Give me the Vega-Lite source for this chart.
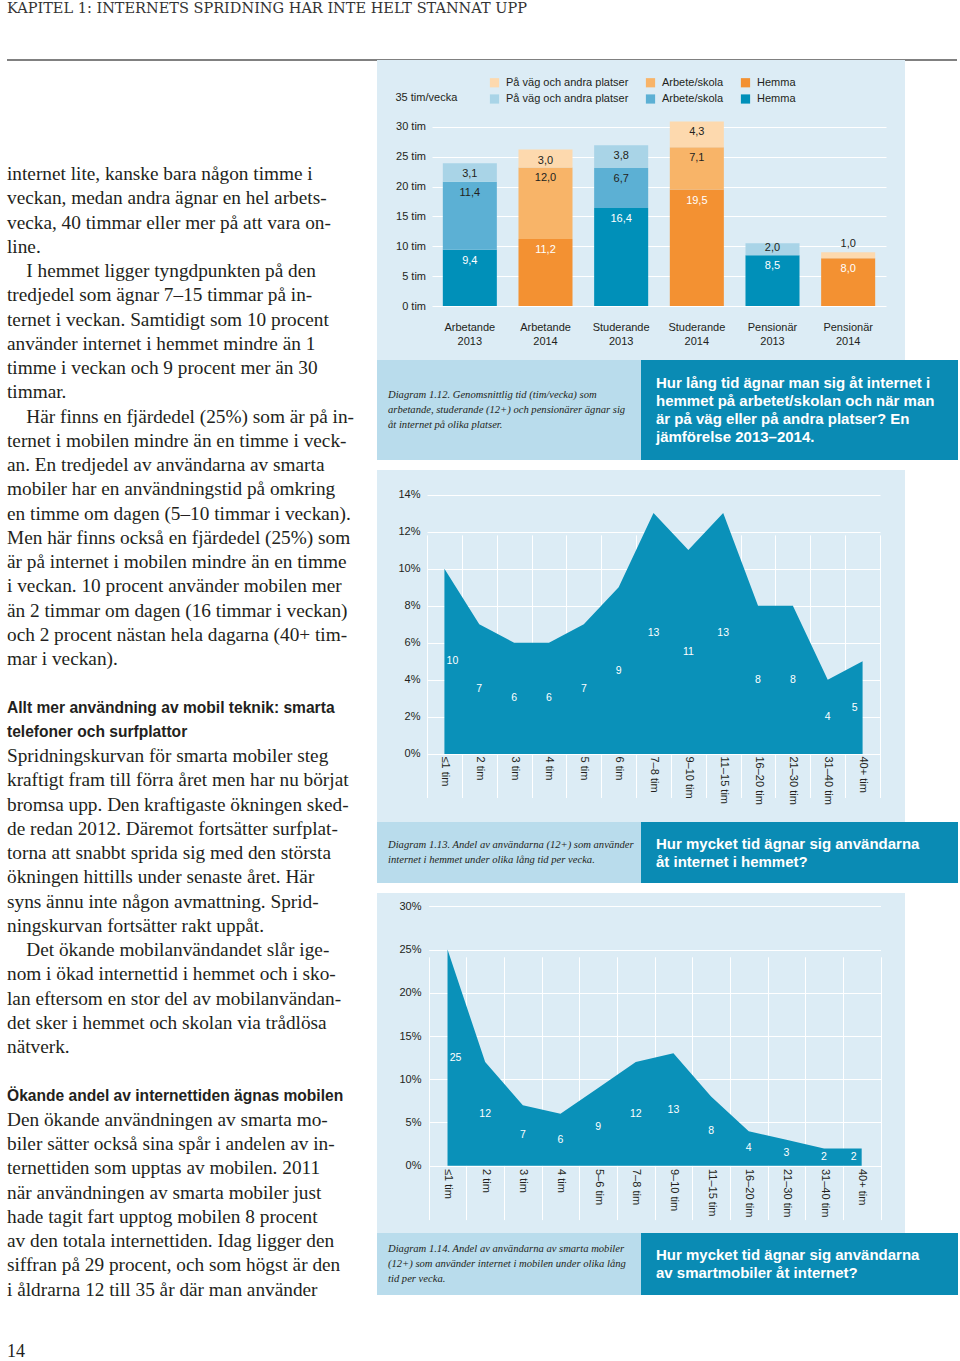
{
  "$schema": "https://vega.github.io/schema/vega-lite/v6.json",
  "padding": {"left": 6, "top": 0, "right": 0, "bottom": 0},
  "background": "white",
  "bounds": "flush",
  "spacing": 0,
  "config": {
    "view": {"stroke": null},
    "font": "Liberation Sans",
    "axis": {"grid": false, "domain": false, "ticks": false, "tickSize": 0, "labelPadding": 0, "labelFont": "Liberation Sans", "labelFontSize": 11, "labelColor": "#231f20"}
  },
  "datasets": {
    "tid": [
      {"grupp": "Arbetande 2013", "ar": 2013, "plats": "Hemma", "serie": "2013 Hemma", "tim": 9.4},
      {"grupp": "Arbetande 2013", "ar": 2013, "plats": "Arbete/skola", "serie": "2013 Arbete/skola", "tim": 11.4},
      {"grupp": "Arbetande 2013", "ar": 2013, "plats": "På väg och andra platser", "serie": "2013 På väg och andra platser", "tim": 3.1},
      {"grupp": "Arbetande 2014", "ar": 2014, "plats": "Hemma", "serie": "2014 Hemma", "tim": 11.2},
      {"grupp": "Arbetande 2014", "ar": 2014, "plats": "Arbete/skola", "serie": "2014 Arbete/skola", "tim": 12.0},
      {"grupp": "Arbetande 2014", "ar": 2014, "plats": "På väg och andra platser", "serie": "2014 På väg och andra platser", "tim": 3.0},
      {"grupp": "Studerande 2013", "ar": 2013, "plats": "Hemma", "serie": "2013 Hemma", "tim": 16.4},
      {"grupp": "Studerande 2013", "ar": 2013, "plats": "Arbete/skola", "serie": "2013 Arbete/skola", "tim": 6.7},
      {"grupp": "Studerande 2013", "ar": 2013, "plats": "På väg och andra platser", "serie": "2013 På väg och andra platser", "tim": 3.8},
      {"grupp": "Studerande 2014", "ar": 2014, "plats": "Hemma", "serie": "2014 Hemma", "tim": 19.5},
      {"grupp": "Studerande 2014", "ar": 2014, "plats": "Arbete/skola", "serie": "2014 Arbete/skola", "tim": 7.1},
      {"grupp": "Studerande 2014", "ar": 2014, "plats": "På väg och andra platser", "serie": "2014 På väg och andra platser", "tim": 4.3},
      {"grupp": "Pensionär 2013", "ar": 2013, "plats": "Hemma", "serie": "2013 Hemma", "tim": 8.5},
      {"grupp": "Pensionär 2013", "ar": 2013, "plats": "På väg och andra platser", "serie": "2013 På väg och andra platser", "tim": 2.0},
      {"grupp": "Pensionär 2014", "ar": 2014, "plats": "Hemma", "serie": "2014 Hemma", "tim": 8.0},
      {"grupp": "Pensionär 2014", "ar": 2014, "plats": "På väg och andra platser", "serie": "2014 På väg och andra platser", "tim": 1.0}
    ],
    "hemma": [
      {"tid": "≤1 tim", "andel": 10},
      {"tid": "2 tim", "andel": 7},
      {"tid": "3 tim", "andel": 6},
      {"tid": "4 tim", "andel": 6},
      {"tid": "5 tim", "andel": 7},
      {"tid": "6 tim", "andel": 9},
      {"tid": "7–8 tim", "andel": 13},
      {"tid": "9–10 tim", "andel": 11},
      {"tid": "11–15 tim", "andel": 13},
      {"tid": "16–20 tim", "andel": 8},
      {"tid": "21–30 tim", "andel": 8},
      {"tid": "31–40 tim", "andel": 4},
      {"tid": "40+ tim", "andel": 5}
    ],
    "mobil": [
      {"tid": "≤1 tim", "andel": 25},
      {"tid": "2 tim", "andel": 12},
      {"tid": "3 tim", "andel": 7},
      {"tid": "4 tim", "andel": 6},
      {"tid": "5–6 tim", "andel": 9},
      {"tid": "7–8 tim", "andel": 12},
      {"tid": "9–10 tim", "andel": 13},
      {"tid": "11–15 tim", "andel": 8},
      {"tid": "16–20 tim", "andel": 4},
      {"tid": "21–30 tim", "andel": 3},
      {"tid": "31–40 tim", "andel": 2},
      {"tid": "40+ tim", "andel": 2}
    ],
    "brodtext": [
      {"rad": 0, "typ": "brod", "text": "internet lite, kanske bara någon timme i"},
      {"rad": 1, "typ": "brod", "text": "veckan, medan andra ägnar en hel arbets-"},
      {"rad": 2, "typ": "brod", "text": "vecka, 40 timmar eller mer på att vara on-"},
      {"rad": 3, "typ": "brod", "text": "line."},
      {"rad": 4, "typ": "brod", "text": "\u200b\u2003I hemmet ligger tyngdpunkten på den"},
      {"rad": 5, "typ": "brod", "text": "tredjedel som ägnar 7–15 timmar på in-"},
      {"rad": 6, "typ": "brod", "text": "ternet i veckan. Samtidigt som 10 procent"},
      {"rad": 7, "typ": "brod", "text": "använder internet i hemmet mindre än 1"},
      {"rad": 8, "typ": "brod", "text": "timme i veckan och 9 procent mer än 30"},
      {"rad": 9, "typ": "brod", "text": "timmar."},
      {"rad": 10, "typ": "brod", "text": "\u200b\u2003Här finns en fjärdedel (25%) som är på in-"},
      {"rad": 11, "typ": "brod", "text": "ternet i mobilen mindre än en timme i veck-"},
      {"rad": 12, "typ": "brod", "text": "an. En tredjedel av användarna av smarta"},
      {"rad": 13, "typ": "brod", "text": "mobiler har en användningstid på omkring"},
      {"rad": 14, "typ": "brod", "text": "en timme om dagen (5–10 timmar i veckan)."},
      {"rad": 15, "typ": "brod", "text": "Men här finns också en fjärdedel (25%) som"},
      {"rad": 16, "typ": "brod", "text": "är på internet i mobilen mindre än en timme"},
      {"rad": 17, "typ": "brod", "text": "i veckan. 10 procent använder mobilen mer"},
      {"rad": 18, "typ": "brod", "text": "än 2 timmar om dagen (16 timmar i veckan)"},
      {"rad": 19, "typ": "brod", "text": "och 2 procent nästan hela dagarna (40+ tim-"},
      {"rad": 20, "typ": "brod", "text": "mar i veckan)."},
      {"rad": 22, "typ": "rubrik", "text": "Allt mer användning av mobil teknik: smarta"},
      {"rad": 23, "typ": "rubrik", "text": "telefoner och surfplattor"},
      {"rad": 24, "typ": "brod", "text": "Spridningskurvan för smarta mobiler steg"},
      {"rad": 25, "typ": "brod", "text": "kraftigt fram till förra året men har nu börjat"},
      {"rad": 26, "typ": "brod", "text": "bromsa upp. Den kraftigaste ökningen sked-"},
      {"rad": 27, "typ": "brod", "text": "de redan 2012. Däremot fortsätter surfplat-"},
      {"rad": 28, "typ": "brod", "text": "torna att snabbt sprida sig med den största"},
      {"rad": 29, "typ": "brod", "text": "ökningen hittills under senaste året. Här"},
      {"rad": 30, "typ": "brod", "text": "syns ännu inte någon avmattning. Sprid-"},
      {"rad": 31, "typ": "brod", "text": "ningskurvan fortsätter rakt uppåt."},
      {"rad": 32, "typ": "brod", "text": "\u200b\u2003Det ökande mobilanvändandet slår ige-"},
      {"rad": 33, "typ": "brod", "text": "nom i ökad internettid i hemmet och i sko-"},
      {"rad": 34, "typ": "brod", "text": "lan eftersom en stor del av mobilanvändan-"},
      {"rad": 35, "typ": "brod", "text": "det sker i hemmet och skolan via trådlösa"},
      {"rad": 36, "typ": "brod", "text": "nätverk."},
      {"rad": 38, "typ": "rubrik", "text": "Ökande andel av internettiden ägnas mobilen"},
      {"rad": 39, "typ": "brod", "text": "Den ökande användningen av smarta mo-"},
      {"rad": 40, "typ": "brod", "text": "biler sätter också sina spår i andelen av in-"},
      {"rad": 41, "typ": "brod", "text": "ternettiden som upptas av mobilen. 2011"},
      {"rad": 42, "typ": "brod", "text": "när användningen av smarta mobiler just"},
      {"rad": 43, "typ": "brod", "text": "hade tagit fart upptog mobilen 8 procent"},
      {"rad": 44, "typ": "brod", "text": "av den totala internettiden. Idag ligger den"},
      {"rad": 45, "typ": "brod", "text": "siffran på 29 procent, och som högst är den"},
      {"rad": 46, "typ": "brod", "text": "i åldrarna 12 till 35 år där man använder"},
      {"rad": 48, "typ": "sida", "text": "14"}
    ]
  },
  "vconcat": [
    {
      "width": 950,
      "height": 60,
      "data": {"values": [{"rubrik": "KAPITEL 1: INTERNETS SPRIDNING HAR INTE HELT STANNAT UPP"}]},
      "layer": [
        {
          "mark": {"type": "text", "align": "left", "baseline": "top", "dy": 2, "font": "DejaVu Serif", "fontSize": 14.5, "color": "#333333"},
          "encoding": {
            "x": {"datum": 0, "type": "quantitative", "scale": {"domain": [0, 1]}, "axis": null},
            "y": {"datum": 1, "type": "quantitative", "scale": {"domain": [0, 1]}, "axis": null},
            "text": {"field": "rubrik"}
          }
        },
        {
          "mark": {"type": "rule", "color": "#808080", "strokeWidth": 2},
          "encoding": {
            "x": {"datum": 0, "type": "quantitative", "axis": null},
            "x2": {"datum": 1},
            "y": {"datum": 0, "type": "quantitative", "axis": null}
          }
        }
      ]
    },
    {
      "hconcat": [
        {
          "width": 350,
          "height": 1301,
          "data": {"name": "brodtext"},
          "encoding": {
            "x": {"datum": 0, "type": "quantitative", "scale": {"domain": [0, 1]}, "axis": null},
            "y": {"field": "rad", "type": "quantitative", "scale": {"domain": [-4.701, 48.948], "reverse": true, "nice": false, "zero": false}, "axis": null},
            "text": {"field": "text"}
          },
          "layer": [
            {"transform": [{"filter": "datum.typ == 'brod'"}], "mark": {"type": "text", "align": "left", "baseline": "middle", "font": "Liberation Serif", "fontSize": 19.3, "color": "#231f20"}},
            {"transform": [{"filter": "datum.typ == 'rubrik'"}], "mark": {"type": "text", "align": "left", "baseline": "middle", "font": "Liberation Sans", "fontWeight": "bold", "fontSize": 15.6, "color": "#231f20"}},
            {"transform": [{"filter": "datum.typ == 'sida'"}], "mark": {"type": "text", "align": "left", "baseline": "middle", "font": "Liberation Serif", "fontSize": 18, "dy": 14, "color": "#231f20"}}
          ]
        },
        {
          "vconcat": [
            {
              "vconcat": [
                {
                  "width": 528,
                  "height": 300,
                  "view": {"fill": "#dcecf5"},
                  "data": {"name": "tid"},
                  "transform": [
                    {"calculate": "indexof(['Hemma', 'Arbete/skola', 'På väg och andra platser'], datum.plats)", "as": "niva"},
                    {"calculate": "replace(format(datum.tim, '.1f'), '.', ',')", "as": "etikett"}
                  ],
                  "layer": [
                    {
                      "mark": {"type": "bar", "opacity": 1},
                      "encoding": {
                        "x": {
                          "field": "grupp", "type": "nominal", "title": null,
                          "scale": {"type": "band", "domain": ["Arbetande 2013", "Arbetande 2014", "Studerande 2013", "Studerande 2014", "Pensionär 2013", "Pensionär 2014"], "range": [55, 509], "paddingInner": 0.286, "paddingOuter": 0.143},
                          "axis": {"orient": "bottom", "offset": -39, "labelAngle": 0, "labelExpr": "split(datum.label, ' ')", "labelLineHeight": 14, "labelBaseline": "top", "labelAlign": "center", "labelPadding": 0, "ticks": false, "domain": false, "title": null}
                        },
                        "y": {
                          "field": "tim", "type": "quantitative", "stack": "zero", "title": null,
                          "scale": {"domain": [0, 35], "range": [246, 37], "nice": false},
                          "axis": {
                            "orient": "left", "offset": -48.5, "values": [0, 5, 10, 15, 20, 25, 30],
                            "labelExpr": "datum.value + ' tim'",
                            "labelAlign": "right",
                            "labelBaseline": "middle", "labelPadding": 0, "ticks": false, "domain": false,
                            "grid": true, "gridColor": "white", "gridWidth": 1, "gridOpacity": 1,
                            "title": "35 tim/vecka", "titleAngle": 0, "titleAlign": "left", "titleBaseline": "middle", "titleX": -30.5, "titleY": 37,
                            "titleFont": "Liberation Sans", "titleFontSize": 11, "titleFontWeight": "normal", "titleColor": "#231f20"
                          }
                        },
                        "color": {
                          "field": "serie", "type": "nominal",
                          "scale": {
                            "domain": ["2014 På väg och andra platser", "2014 Arbete/skola", "2014 Hemma", "2013 På väg och andra platser", "2013 Arbete/skola", "2013 Hemma"],
                            "range": ["#fdd9ae", "#f8b468", "#f39132", "#a9d4e7", "#5cb0d4", "#0090b9"]
                          },
                          "legend": {
                            "title": null, "orient": "none", "legendX": 482, "legendY": 77, "columns": 3, "direction": "horizontal",
                            "symbolType": "square", "symbolSize": 85, "symbolStrokeWidth": 0, "padding": 0,
                            "columnPadding": 16, "rowPadding": 4.5, "labelOffset": 6,
                            "labelFont": "Liberation Sans", "labelFontSize": 11, "labelColor": "#231f20",
                            "labelExpr": "substring(datum.label, 5)"
                          }
                        },
                        "order": {"field": "niva", "type": "quantitative"}
                      }
                    },
                    {
                      "mark": {"type": "text", "font": "Liberation Sans", "fontSize": 11, "baseline": "middle", "align": "center", "dy": 11},
                      "encoding": {
                        "x": {"field": "grupp", "type": "nominal"},
                        "y": {"field": "tim", "type": "quantitative", "stack": "zero"},
                        "detail": {"field": "serie"},
                        "order": {"field": "niva", "type": "quantitative"},
                        "text": {"condition": {"test": "datum.tim < 2.5", "value": ""}, "field": "etikett"},
                        "color": {"condition": {"test": "datum.plats == 'Hemma'", "value": "white"}, "value": "#231f20"}
                      }
                    },
                    {
                      "mark": {"type": "text", "font": "Liberation Sans", "fontSize": 11, "baseline": "middle", "align": "center", "dy": 5, "color": "#231f20"},
                      "encoding": {
                        "x": {"field": "grupp", "type": "nominal"},
                        "y": {"field": "tim", "type": "quantitative", "stack": "zero"},
                        "detail": {"field": "serie"},
                        "order": {"field": "niva", "type": "quantitative"},
                        "text": {"condition": {"test": "datum.tim >= 1.5 && datum.tim < 2.5", "field": "etikett"}, "value": ""}
                      }
                    },
                    {
                      "mark": {"type": "text", "font": "Liberation Sans", "fontSize": 11, "baseline": "middle", "align": "center", "dy": -8, "color": "#231f20"},
                      "encoding": {
                        "x": {"field": "grupp", "type": "nominal"},
                        "y": {"field": "tim", "type": "quantitative", "stack": "zero"},
                        "detail": {"field": "serie"},
                        "order": {"field": "niva", "type": "quantitative"},
                        "text": {"condition": {"test": "datum.tim < 1.5", "field": "etikett"}, "value": ""}
                      }
                    }
                  ]
                },
                {
                  "hconcat": [
                    {
                      "width": 264, "height": 100,
                      "view": {"fill": "#b9dcec"},
                      "data": {"values": [{"text": "Diagram 1.12. Genomsnittlig tid (tim/vecka) som\narbetande, studerande (12+) och pensionärer ägnar sig\nåt internet på olika platser."}]},
                      "mark": {"type": "text", "align": "left", "baseline": "middle", "dx": 11, "dy": -15, "lineBreak": "\n", "lineHeight": 15, "font": "Liberation Serif", "fontStyle": "italic", "fontSize": 10.6, "color": "#231f20"},
                      "encoding": {"x": {"datum": 0, "type": "quantitative", "scale": {"domain": [0, 1]}, "axis": null}, "text": {"field": "text"}}
                    },
                    {
                      "width": 317, "height": 100,
                      "view": {"fill": "#0a8bb4"},
                      "data": {"values": [{"text": "Hur lång tid ägnar man sig åt internet i\nhemmet på arbetet/skolan och när man\när på väg eller på andra platser? En\njämförelse 2013–2014."}]},
                      "mark": {"type": "text", "align": "left", "baseline": "middle", "dx": 15, "dy": -27.5, "lineBreak": "\n", "lineHeight": 18.3, "font": "Liberation Sans", "fontWeight": "bold", "fontSize": 15, "color": "white"},
                      "encoding": {"x": {"datum": 0, "type": "quantitative", "scale": {"domain": [0, 1]}, "axis": null}, "text": {"field": "text"}}
                    }
                  ],
                  "spacing": 0
                }
              ],
              "spacing": 0
            },
            {
              "vconcat": [
                {
                  "width": 528,
                  "height": 352,
                  "view": {"fill": "#dcecf5"},
                  "data": {"name": "hemma"},
                  "transform": [{"calculate": "datum.andel / 2", "as": "halv"}],
                  "layer": [
                    {
                      "mark": {"type": "area", "color": "#0a91b9", "opacity": 1, "interpolate": "linear"},
                      "encoding": {
                        "x": {
                          "field": "tid", "type": "nominal", "sort": null, "title": null,
                          "scale": {"type": "band", "domain": ["≤1 tim", "2 tim", "3 tim", "4 tim", "5 tim", "6 tim", "7–8 tim", "9–10 tim", "11–15 tim", "16–20 tim", "21–30 tim", "31–40 tim", "40+ tim"], "range": [50, 503], "paddingInner": 0, "paddingOuter": 0},
                          "axis": {"orient": "bottom", "offset": -66, "labelAngle": 90, "labelAlign": "left", "labelBaseline": "middle", "labelPadding": 0, "ticks": false, "domain": false, "title": null, "grid": true, "gridColor": "white", "gridOpacity": 1, "tickBand": "extent"}
                        },
                        "y": {
                          "field": "andel", "type": "quantitative", "title": null,
                          "scale": {"domain": [-0.17, 14], "range": [287.1, 24.5], "nice": false, "zero": false},
                          "axis": {"orient": "left", "offset": -43, "values": [0, 2, 4, 6, 8, 10, 12, 14], "labelExpr": "datum.value + '%'", "labelBaseline": "middle", "labelPadding": 0, "ticks": false, "domain": false, "grid": true, "gridColor": "white", "gridOpacity": 1, "title": null}
                        }
                      }
                    },
                    {
                      "transform": [{"filter": "datum.tid != '≤1 tim' && datum.tid != '40+ tim'"}],
                      "mark": {"type": "text", "color": "white", "font": "Liberation Sans", "fontSize": 10.5, "baseline": "middle", "align": "center"},
                      "encoding": {
                        "x": {"field": "tid", "type": "nominal", "sort": null},
                        "y": {"field": "halv", "type": "quantitative"},
                        "text": {"field": "andel", "type": "quantitative"}
                      }
                    },
                    {
                      "transform": [{"filter": "datum.tid == '≤1 tim'"}],
                      "mark": {"type": "text", "color": "white", "font": "Liberation Sans", "fontSize": 10.5, "baseline": "middle", "align": "center", "dx": 8},
                      "encoding": {
                        "x": {"field": "tid", "type": "nominal", "sort": null},
                        "y": {"field": "halv", "type": "quantitative"},
                        "text": {"field": "andel", "type": "quantitative"}
                      }
                    },
                    {
                      "transform": [{"filter": "datum.tid == '40+ tim'"}],
                      "mark": {"type": "text", "color": "white", "font": "Liberation Sans", "fontSize": 10.5, "baseline": "middle", "align": "center", "dx": -8},
                      "encoding": {
                        "x": {"field": "tid", "type": "nominal", "sort": null},
                        "y": {"field": "halv", "type": "quantitative"},
                        "text": {"field": "andel", "type": "quantitative"}
                      }
                    }
                  ]
                },
                {
                  "hconcat": [
                    {
                      "width": 264, "height": 61,
                      "view": {"fill": "#b9dcec"},
                      "data": {"values": [{"text": "Diagram 1.13. Andel av användarna (12+) som använder\ninternet i hemmet under olika lång tid per vecka."}]},
                      "mark": {"type": "text", "align": "left", "baseline": "middle", "dx": 11, "dy": -7.5, "lineBreak": "\n", "lineHeight": 15, "font": "Liberation Serif", "fontStyle": "italic", "fontSize": 10.6, "color": "#231f20"},
                      "encoding": {"x": {"datum": 0, "type": "quantitative", "scale": {"domain": [0, 1]}, "axis": null}, "text": {"field": "text"}}
                    },
                    {
                      "width": 317, "height": 61,
                      "view": {"fill": "#0a8bb4"},
                      "data": {"values": [{"text": "Hur mycket tid ägnar sig användarna\nåt internet i hemmet?"}]},
                      "mark": {"type": "text", "align": "left", "baseline": "middle", "dx": 15, "dy": -9, "lineBreak": "\n", "lineHeight": 18.3, "font": "Liberation Sans", "fontWeight": "bold", "fontSize": 15, "color": "white"},
                      "encoding": {"x": {"datum": 0, "type": "quantitative", "scale": {"domain": [0, 1]}, "axis": null}, "text": {"field": "text"}}
                    }
                  ],
                  "spacing": 0
                }
              ],
              "spacing": 0
            },
            {
              "vconcat": [
                {
                  "width": 528,
                  "height": 340,
                  "view": {"fill": "#dcecf5"},
                  "data": {"name": "mobil"},
                  "transform": [{"calculate": "datum.andel / 2", "as": "halv"}],
                  "layer": [
                    {
                      "mark": {"type": "area", "color": "#0a91b9", "opacity": 1, "interpolate": "linear"},
                      "encoding": {
                        "x": {
                          "field": "tid", "type": "nominal", "sort": null, "title": null,
                          "scale": {"type": "band", "domain": ["≤1 tim", "2 tim", "3 tim", "4 tim", "5–6 tim", "7–8 tim", "9–10 tim", "11–15 tim", "16–20 tim", "21–30 tim", "31–40 tim", "40+ tim"], "range": [51.7, 503.5], "paddingInner": 0, "paddingOuter": 0},
                          "axis": {"orient": "bottom", "offset": -64.5, "labelAngle": 90, "labelAlign": "left", "labelBaseline": "middle", "labelPadding": 0, "ticks": false, "domain": false, "title": null, "grid": true, "gridColor": "white", "gridOpacity": 1, "tickBand": "extent"}
                        },
                        "y": {
                          "field": "andel", "type": "quantitative", "title": null,
                          "scale": {"domain": [-0.4, 30], "range": [276.16, 13.4], "nice": false, "zero": false},
                          "axis": {"orient": "left", "offset": -44, "values": [0, 5, 10, 15, 20, 25, 30], "labelExpr": "datum.value + '%'", "labelBaseline": "middle", "labelPadding": 0, "ticks": false, "domain": false, "grid": true, "gridColor": "white", "gridOpacity": 1, "title": null}
                        }
                      }
                    },
                    {
                      "transform": [{"filter": "datum.tid != '≤1 tim' && datum.tid != '40+ tim'"}],
                      "mark": {"type": "text", "color": "white", "font": "Liberation Sans", "fontSize": 10.5, "baseline": "middle", "align": "center"},
                      "encoding": {
                        "x": {"field": "tid", "type": "nominal", "sort": null},
                        "y": {"field": "halv", "type": "quantitative"},
                        "text": {"field": "andel", "type": "quantitative"}
                      }
                    },
                    {
                      "transform": [{"filter": "datum.tid == '≤1 tim'"}],
                      "mark": {"type": "text", "color": "white", "font": "Liberation Sans", "fontSize": 10.5, "baseline": "middle", "align": "center", "dx": 8},
                      "encoding": {
                        "x": {"field": "tid", "type": "nominal", "sort": null},
                        "y": {"field": "halv", "type": "quantitative"},
                        "text": {"field": "andel", "type": "quantitative"}
                      }
                    },
                    {
                      "transform": [{"filter": "datum.tid == '40+ tim'"}],
                      "mark": {"type": "text", "color": "white", "font": "Liberation Sans", "fontSize": 10.5, "baseline": "middle", "align": "center", "dx": -8},
                      "encoding": {
                        "x": {"field": "tid", "type": "nominal", "sort": null},
                        "y": {"field": "halv", "type": "quantitative"},
                        "text": {"field": "andel", "type": "quantitative"}
                      }
                    }
                  ]
                },
                {
                  "hconcat": [
                    {
                      "width": 264, "height": 62,
                      "view": {"fill": "#b9dcec"},
                      "data": {"values": [{"text": "Diagram 1.14. Andel av användarna av smarta mobiler\n(12+) som använder internet i mobilen under olika lång\ntid per vecka."}]},
                      "mark": {"type": "text", "align": "left", "baseline": "middle", "dx": 11, "dy": -15, "lineBreak": "\n", "lineHeight": 15, "font": "Liberation Serif", "fontStyle": "italic", "fontSize": 10.6, "color": "#231f20"},
                      "encoding": {"x": {"datum": 0, "type": "quantitative", "scale": {"domain": [0, 1]}, "axis": null}, "text": {"field": "text"}}
                    },
                    {
                      "width": 317, "height": 62,
                      "view": {"fill": "#0a8bb4"},
                      "data": {"values": [{"text": "Hur mycket tid ägnar sig användarna\nav smartmobiler åt internet?"}]},
                      "mark": {"type": "text", "align": "left", "baseline": "middle", "dx": 15, "dy": -9, "lineBreak": "\n", "lineHeight": 18.3, "font": "Liberation Sans", "fontWeight": "bold", "fontSize": 15, "color": "white"},
                      "encoding": {"x": {"datum": 0, "type": "quantitative", "scale": {"domain": [0, 1]}, "axis": null}, "text": {"field": "text"}}
                    }
                  ],
                  "spacing": 0
                }
              ],
              "spacing": 0
            }
          ],
          "spacing": 10
        }
      ],
      "spacing": 20,
      "bounds": "flush"
    }
  ]
}
